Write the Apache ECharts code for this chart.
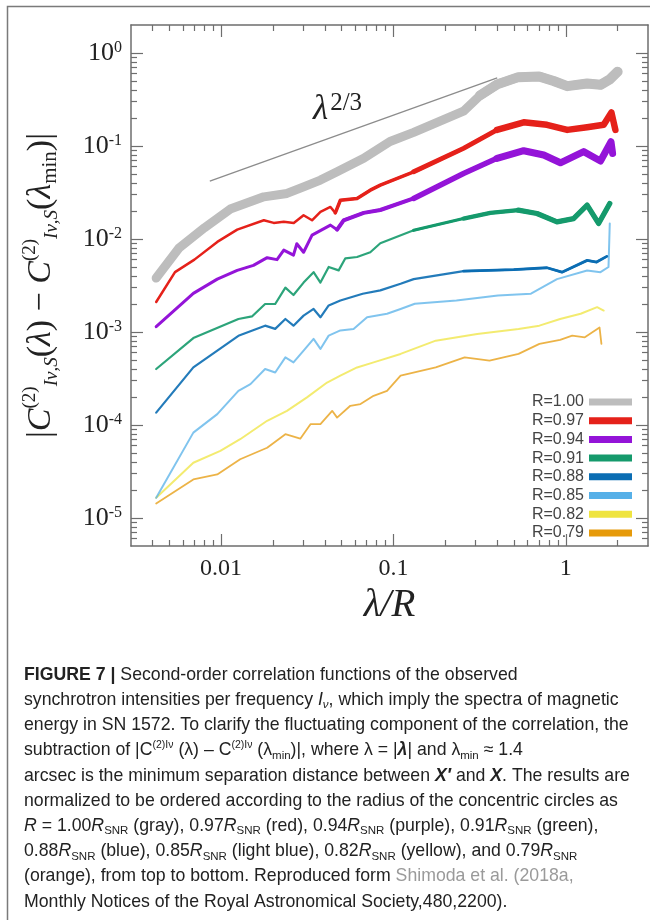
<!DOCTYPE html>
<html>
<head>
<meta charset="utf-8">
<script src="https://cdn.jsdelivr.net/npm/echarts@6.0.0/dist/echarts.min.js"></script>
<style>
html, body { margin: 0; padding: 0; background: #fff; }
#chart { width: 650px; height: 920px; }
</style>
</head>
<body>
<div id="chart"></div>
<script>
// values: [lambda/R, |C(l) - C(lmin)|]
var gray = [[0.0042,0.0038],[0.0057,0.0080],[0.0080,0.0132],[0.0113,0.0210],[0.0177,0.0284],[0.0241,0.0309],[0.0301,0.0364],[0.0377,0.0430],[0.0471,0.0528],[0.0672,0.0737],[0.0955,0.112],[0.131,0.140],[0.255,0.237],[0.318,0.350],[0.40,0.46],[0.53,0.55],[0.70,0.56],[0.85,0.50],[1.02,0.44],[1.33,0.47],[1.59,0.455],[1.80,0.52],[2.0,0.63]];
var red = [[0.0042,0.0021],[0.0054,0.0044],[0.0070,0.0060],[0.0095,0.0093],[0.0124,0.0126],[0.0177,0.0159],[0.0202,0.0149],[0.0231,0.0153],[0.0264,0.0149],[0.0301,0.0180],[0.0337,0.0159],[0.0377,0.0196],[0.0431,0.0221],[0.0460,0.0191],[0.0492,0.0261],[0.0615,0.0273],[0.0734,0.0335],[0.0839,0.0379],[0.131,0.0528],[0.255,0.0944],[0.399,0.149],[0.570,0.180],[0.778,0.169],[1.02,0.149],[1.33,0.159],[1.66,0.169],[1.84,0.229],[1.94,0.149]];
var purple = [[0.0042,0.00114],[0.0069,0.0026],[0.0095,0.0037],[0.0124,0.0046],[0.0154,0.0052],[0.0185,0.0063],[0.0211,0.0060],[0.0231,0.0076],[0.0263,0.0067],[0.0275,0.0089],[0.0301,0.0072],[0.0337,0.0110],[0.0431,0.0141],[0.0471,0.0126],[0.0514,0.0159],[0.0672,0.0191],[0.0839,0.0205],[0.131,0.0273],[0.255,0.0507],[0.399,0.0737],[0.570,0.089],[0.745,0.080],[0.931,0.066],[1.27,0.087],[1.59,0.069],[1.83,0.111],[1.87,0.083]];
var green = [[0.0042,0.00040],[0.0069,0.00086],[0.0126,0.00138],[0.0151,0.00147],[0.0180,0.0020],[0.0206,0.0020],[0.0236,0.0030],[0.0263,0.0025],[0.0301,0.0034],[0.0344,0.0044],[0.0377,0.0034],[0.0421,0.0050],[0.0481,0.0046],[0.0526,0.0062],[0.0615,0.0064],[0.0734,0.0072],[0.0839,0.0090],[0.131,0.0124],[0.255,0.0166],[0.365,0.0191],[0.53,0.0204],[0.681,0.0188],[0.889,0.0153],[1.11,0.0166],[1.33,0.0231],[1.55,0.0147],[1.80,0.0241]];
var blue = [[0.0042,0.000136],[0.0069,0.000416],[0.0126,0.00091],[0.0180,0.00117],[0.0206,0.00108],[0.0236,0.00138],[0.0263,0.00117],[0.0301,0.0015],[0.0344,0.00177],[0.0377,0.00144],[0.0421,0.00193],[0.0492,0.00218],[0.0663,0.00258],[0.0839,0.0028],[0.11,0.0033],[0.131,0.0037],[0.255,0.00452],[0.499,0.00468],[0.778,0.00491],[0.95,0.0044],[1.33,0.00589],[1.51,0.00565],[1.73,0.0065]];
var lightBlue = [[0.0042,0.0000165],[0.0069,0.0000828],[0.0095,0.000131],[0.0126,0.000233],[0.0148,0.000275],[0.0180,0.00040],[0.0206,0.000367],[0.0236,0.000533],[0.0263,0.000471],[0.0301,0.00063],[0.0344,0.000843],[0.0377,0.000658],[0.0421,0.000914],[0.0492,0.00104],[0.0587,0.00108],[0.0703,0.00144],[0.0918,0.00157],[0.11,0.00177],[0.133,0.00201],[0.232,0.00218],[0.404,0.00247],[0.628,0.00258],[0.889,0.0037],[1.33,0.00459],[1.59,0.0044],[1.77,0.0050],[1.80,0.0147]];
var yellow = [[0.0042,0.0000165],[0.0069,0.0000393],[0.0099,0.0000526],[0.0129,0.0000703],[0.0185,0.000111],[0.0241,0.000142],[0.0315,0.000198],[0.0412,0.000286],[0.0492,0.000339],[0.0615,0.000416],[0.0767,0.000471],[0.11,0.000581],[0.176,0.000807],[0.306,0.000953],[0.532,0.00108],[0.703,0.00117],[0.927,0.00138],[1.22,0.00157],[1.52,0.00185],[1.66,0.0017]];
var orange = [[0.0042,0.0000143],[0.0069,0.000026],[0.0095,0.0000294],[0.0129,0.0000428],[0.0185,0.000057],[0.0236,0.0000796],[0.0288,0.0000713],[0.033,0.000102],[0.0377,0.000102],[0.0441,0.000142],[0.0471,0.00012],[0.0562,0.000161],[0.0644,0.000168],[0.0767,0.000206],[0.0918,0.000233],[0.11,0.000339],[0.176,0.000416],[0.259,0.000533],[0.361,0.000492],[0.532,0.000581],[0.703,0.000745],[0.927,0.000822],[1.09,0.000914],[1.29,0.000877],[1.57,0.00112],[1.61,0.000745]];

// lambda^(2/3) guide line
var refX = [0.0086, 0.40];
var refY = [0.042, 0.54];

var names = ['R=1.00', 'R=0.97', 'R=0.94', 'R=0.91', 'R=0.88', 'R=0.85', 'R=0.82', 'R=0.79'];
var curves = [gray, red, purple, green, blue, lightBlue, yellow, orange];
var colors = ['#bdbdbd', '#e5211a', '#9414d8', '#159a6c', '#0b6db3', '#56b0e8', '#efe440', '#e69a0a'];
var widths = [9, 2.5, 3, 2.2, 2.2, 2, 2, 1.8];
var opac = [1, 1, 1, 0.9, 0.9, 0.75, 0.75, 0.75];
// the noisy right part of some curves looks thicker: [from lambda, width]
var thick = [
    [[0.3, 10]],
    [[0.045, 3.5], [0.13, 4.8], [0.3, 6.5]],
    [[0.045, 4], [0.13, 5.5], [0.3, 7]],
    [[0.1, 3.2], [0.25, 4.3], [0.5, 5.3]],
    [[0.2, 2.8]],
    [],
    [],
    []
];

// axes
var xMin = 0.003, xMax = 3;
var yMin = 5e-6, yMax = 2;
var xMajor = [0.01, 0.1, 1];
var xMajorText = ['0.01', '0.1', '1'];
var yMajor = [1e-5, 1e-4, 1e-3, 1e-2, 1e-1, 1];
var yExp = ['-5', '-4', '-3', '-2', '-1', '0'];

function minorTicks(lo, hi) {
    var out = [];
    for (var e = -7; e <= 1; e++) {
        for (var m = 2; m <= 9; m++) {
            var v = m * Math.pow(10, e);
            if (v > lo * 1.0001 && v < hi * 0.9999) out.push(v);
        }
    }
    return out;
}
var xMinor = minorTicks(xMin, xMax);
var yMinor = minorTicks(yMin, yMax);

var axisColor = '#6e6e6e';
var serif = "'Liberation Serif', 'DejaVu Serif', serif";

function xAx(pos, major, extra) {
    var ax = {
        type: 'log', logBase: 10, min: xMin, max: xMax, position: pos,
        splitLine: { show: false },
        axisLine: { show: major, lineStyle: { color: axisColor, width: 1.5 } },
        axisTick: { show: true, inside: true, length: major ? 12 : 6,
            customValues: major ? xMajor : xMinor,
            lineStyle: { color: axisColor, width: 1.2 } },
        axisLabel: { show: false }
    };
    return Object.assign(ax, extra || {});
}
function yAx(pos, major, extra) {
    var ax = {
        type: 'log', logBase: 10, min: yMin, max: yMax, position: pos,
        splitLine: { show: false },
        axisLine: { show: major, lineStyle: { color: axisColor, width: 1.5 } },
        axisTick: { show: true, inside: true, length: major ? 12 : 6,
            customValues: major ? yMajor : yMinor,
            lineStyle: { color: axisColor, width: 1.2 } },
        axisLabel: { show: false }
    };
    return Object.assign(ax, extra || {});
}

var series = [];
curves.forEach(function (d, i) {
    series.push({
        name: names[i], type: 'line', data: d,
        xAxisIndex: 0, yAxisIndex: 0,
        symbol: 'none', showSymbol: false, silent: true,
        lineStyle: { color: colors[i], width: widths[i], opacity: opac[i], join: 'round', cap: 'round' },
        itemStyle: { color: colors[i] },
        emphasis: { disabled: true },
        z: 10 - i
    });
    thick[i].forEach(function (t) {
        series.push({
            type: 'line', silent: true, symbol: 'none',
            data: d.filter(function (p) { return p[0] >= t[0]; }),
            lineStyle: { color: colors[i], width: t[1], join: 'round', cap: 'round' },
            emphasis: { disabled: true },
            z: 10 - i
        });
    });
});
series.push({
    type: 'line', data: refX.map(function (x, i) { return [x, refY[i]]; }),
    xAxisIndex: 0, yAxisIndex: 0, symbol: 'none', silent: true,
    lineStyle: { color: '#8c8c8c', width: 1.3 }, emphasis: { disabled: true }
});

var capFont = "'Liberation Sans', Arial, sans-serif";
var capSize = 17.7;
function rs(o) {
    return Object.assign({ fontFamily: capFont, fontSize: capSize, fill: '#222', lineHeight: 22 }, o);
}
var capRich = {
    b: rs({ fontWeight: 'bold' }),
    i: rs({ fontStyle: 'italic' }),
    bi: rs({ fontStyle: 'italic', fontWeight: 'bold' }),
    sub: rs({ fontSize: 11.5, lineHeight: 11, verticalAlign: 'bottom' }),
    isub: rs({ fontSize: 11.5, lineHeight: 11, fontStyle: 'italic', verticalAlign: 'bottom' }),
    sup: rs({ fontSize: 10.5, lineHeight: 10, verticalAlign: 'top' }),
    g: rs({ fill: '#9a9a9a' })
};
var R = '{i|R}{sub|SNR}';
var captionLines = [
    '{b|FIGURE 7 |} Second-order correlation functions of the observed',
    'synchrotron intensities per frequency {i|I}{isub|ν}, which imply the spectra of magnetic',
    'energy in SN 1572. To clarify the fluctuating component of the correlation, the',
    'subtraction of |C{sup|(2)Iν} (λ) – C{sup|(2)Iν} (λ{sub|min})|, where λ = |{bi|λ}| and λ{sub|min} ≈ 1.4',
    'arcsec is the minimum separation distance between {bi|X′} and {bi|X}. The results are',
    'normalized to be ordered according to the radius of the concentric circles as',
    '{i|R} = 1.00' + R + ' (gray), 0.97' + R + ' (red), 0.94' + R + ' (purple), 0.91' + R + ' (green),',
    '0.88' + R + ' (blue), 0.85' + R + ' (light blue), 0.82' + R + ' (yellow), and 0.79' + R,
    '(orange), from top to bottom. Reproduced form {g|Shimoda et al. (2018a,}',
    'Monthly Notices of the Royal Astronomical Society,480,2200).'
];

var graphics = [{
    type: 'rect', silent: true,
    shape: { x: 7.5, y: 6.5, width: 700, height: 1000 },
    style: { fill: 'none', stroke: '#7a7a7a', lineWidth: 1.5 }
}, {
    type: 'text', x: 313, y: 110, silent: true,
    style: {
        text: '{l|λ}{s|2/3}', verticalAlign: 'middle',
        rich: {
            l: { fontFamily: serif, fontStyle: 'italic', fontSize: 35, lineHeight: 38, fill: '#222' },
            s: { fontFamily: serif, fontSize: 25, lineHeight: 24, verticalAlign: 'top', fill: '#222', padding: [0, 0, 0, 2] }
        }
    }
}];
captionLines.forEach(function (t, i) {
    graphics.push({
        type: 'text', x: 24, y: 675 + i * 25.2, silent: true,
        style: {
            text: t, verticalAlign: 'middle', fontFamily: capFont, fontSize: capSize,
            fill: '#222', rich: capRich
        }
    });
});

var yName = '{m||}{c|C}{sup|(2)}{sub|Iν,S}{m|(}{l|λ}{m|) − }{c|C}{sup|(2)}{sub|Iν,S}{m|(}{l|λ}{sub2|min}{m|)|}';
function ns(o) {
    return Object.assign({ fontFamily: serif, fontSize: 34, lineHeight: 40, color: '#222' }, o);
}

var chart = echarts.init(document.getElementById('chart'));
chart.setOption({
    animation: false,
    backgroundColor: '#fff',
    grid: { left: 131, top: 25, right: 2, bottom: 374 },
    legend: {
        data: names, orient: 'vertical', right: 18, top: 394, align: 'right',
        icon: 'rect', itemWidth: 43, itemHeight: 7, itemGap: 2.7, padding: 0,
        selectedMode: false,
        textStyle: { fontFamily: "'Liberation Sans', Arial, sans-serif", fontSize: 16, lineHeight: 16, color: '#444' }
    },
    xAxis: [
        xAx('bottom', true, {
            axisLabel: {
                show: true, customValues: xMajor, margin: 11,
                fontFamily: serif, fontSize: 24, color: '#222',
                formatter: function (v) {
                    var k = Math.round(Math.log10(v)) + 2;
                    return xMajorText[k];
                }
            },
            name: 'λ/R', nameLocation: 'middle', nameGap: 34,
            nameTextStyle: { fontFamily: serif, fontStyle: 'italic', fontSize: 39, color: '#222' }
        }),
        xAx('bottom', false),
        xAx('top', true),
        xAx('top', false)
    ],
    yAxis: [
        yAx('left', true, {
            axisLabel: {
                show: true, customValues: yMajor, margin: 9,
                formatter: function (v) {
                    var k = Math.round(Math.log10(v)) + 5;
                    return '{b|10}{s|' + yExp[k] + '}';
                },
                rich: {
                    b: { fontFamily: serif, fontSize: 26, lineHeight: 26, color: '#222' },
                    s: { fontFamily: serif, fontSize: 16, lineHeight: 15, verticalAlign: 'top', color: '#222' }
                }
            },
            name: yName, nameLocation: 'middle', nameGap: 70, nameRotate: 90,
            nameTextStyle: {
                rich: {
                    m: ns({}),
                    c: ns({ fontStyle: 'italic' }),
                    l: ns({ fontStyle: 'italic' }),
                    sup: ns({ fontSize: 19, lineHeight: 18, verticalAlign: 'top' }),
                    sub: ns({ fontSize: 19, lineHeight: 18, verticalAlign: 'bottom', fontStyle: 'italic' }),
                    sub2: ns({ fontSize: 21, lineHeight: 20, verticalAlign: 'bottom' })
                }
            }
        }),
        yAx('left', false),
        yAx('right', true),
        yAx('right', false)
    ],
    series: series,
    graphic: graphics
});
</script>
</body>
</html>
